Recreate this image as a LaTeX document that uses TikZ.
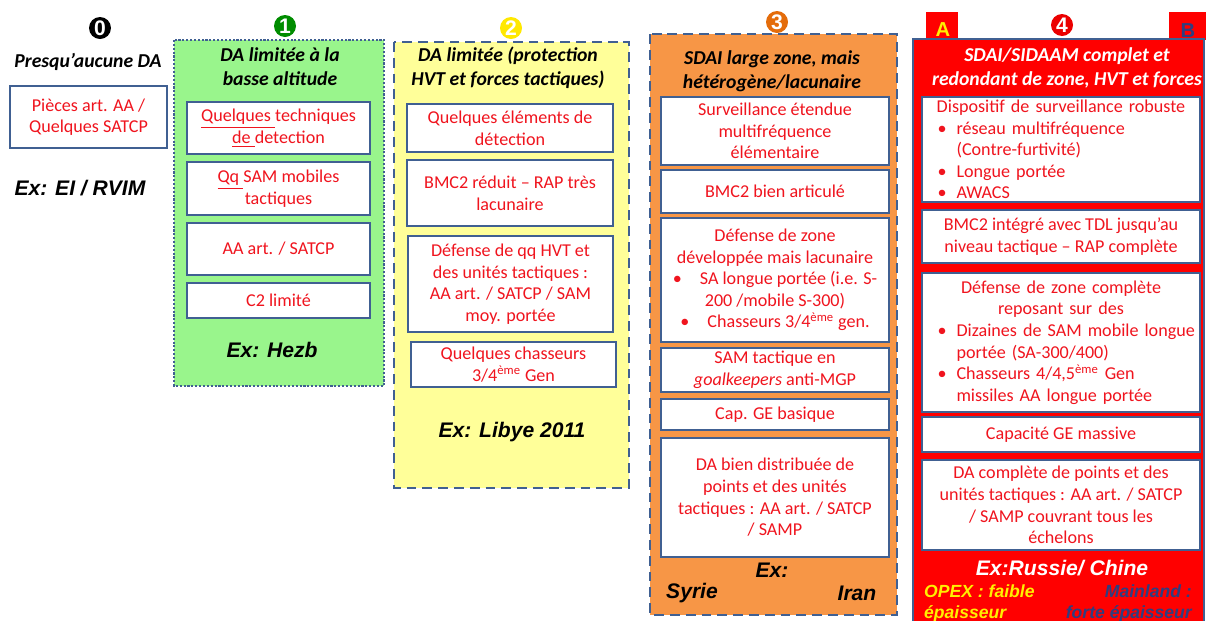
\documentclass[tikz,border=0pt]{standalone}
\usepackage{fontspec}
\setmainfont{Carlito}
\newfontfamily\arialfont{Liberation Sans}
\usepackage{tikz}
\usetikzlibrary{backgrounds}
\usepackage{xcolor}
\definecolor{frameCol}{RGB}{64,96,146}
\definecolor{itemCol}{RGB}{240,20,30}
\definecolor{greenCol}{RGB}{153,245,140}
\definecolor{yellowCol}{RGB}{255,255,153}
\definecolor{orangeCol}{RGB}{247,150,70}
\definecolor{redCol}{RGB}{255,0,0}
\definecolor{navyCol}{RGB}{47,62,128}
\definecolor{goldCol}{RGB}{255,240,0}
\colorlet{rank1Col}{green!55!black}
\definecolor{rank2Col}{RGB}{255,232,0}
\definecolor{rank3Col}{RGB}{228,108,10}
\definecolor{rank4Col}{RGB}{235,0,0}

\newcommand{\eme}{\textsuperscript{ème}}
\newcommand{\pucel}[1]{\makebox[\hsize][l]{\hspace{0.28cm}\makebox[0.38cm][l]{\textbullet}#1}}
\newcommand{\suitel}[1]{\makebox[\hsize][l]{\hspace{0.66cm}#1}}

\tikzset{
  card/.style={draw=frameCol, fill=white, line width=1.6pt, inner sep=0pt, text=itemCol, align=center, font=\fontsize{10.3}{12.3}\selectfont},
  slot/.style n args={4}{at={(#1/2+#3/2, #2/2+#4/2)}, minimum width={(#3-#1)*0.02cm}, minimum height={(#4-#2)*0.02cm}},
  heading/.style={align=center, font=\fontsize{11.2}{13.6}\selectfont\bfseries\itshape},
  exlbl/.style={font=\arialfont\fontsize{12}{14}\selectfont\bfseries\itshape},
  exsmall/.style={font=\arialfont\fontsize{10}{12}\selectfont\bfseries\itshape},
  tabtxt/.style={font=\arialfont\fontsize{11.5}{12}\selectfont\bfseries},
  rank/.style={circle, inner sep=0pt, minimum size=0.44cm, text=white, font=\arialfont\bfseries\fontsize{12}{12}\selectfont},
  dotframe/.style={draw=frameCol, line width=1.6pt, dash pattern=on 1.2pt off 1pt},
  dashframe/.style={draw=frameCol, line width=1.6pt, dash pattern=on 5.6pt off 3.4pt},
}

\begin{document}
\begin{tikzpicture}[x=0.02cm, y=-0.02cm]
%--------------------------------------------------
\useasboundingbox (0,0) rectangle (1206,620);
\clip (0,0) rectangle (1206,620);

% level 0 : no air defence
\node[rank, fill=black] (r0) at (100,28) {0};
\node[heading] (h0) at (88,62) {Presqu’aucune DA};
\node[card, slot={10}{86}{167}{148}] (c0a) {Pièces art. AA /\\Quelques SATCP};
\node[exlbl] (e0) at (80,188) {Ex: EI / RVIM};


% level 1 : green frame
\filldraw [dotframe, fill=greenCol](174,40) rectangle (384,386);
\node[rank, fill=rank1Col] (r1) at (285,26) {1};
\node[heading] (h1) at (280,67) {DA limitée à la\\basse altitude};
\node[card, slot={187}{102}{370}{154}] (c1a) {\underline{Quelques\ }techniques\\\underline{de\ }detection};
\node[card, slot={187}{162}{370}{215}] (c1b) {\underline{Qq\ }SAM mobiles\\tactiques};
\node[card, slot={187}{223}{370}{275}] (c1c) {AA art. / SATCP};
\node[card, slot={187}{283}{370}{318}] (c1d) {C2 limité};
\node[exlbl] (e1) at (272,350) {Ex: Hezb};


% level 2 : yellow frame
\filldraw [dashframe, fill=yellowCol](394,42) rectangle (629,488);
\node[rank, fill=rank2Col] (r2) at (511,28) {2};
\node[heading] (h2) at (508,68) {DA limitée (protection\\HVT et forces tactiques)};
\node[card, slot={407}{104}{613}{152}] (c2a) {Quelques éléments de\\détection};
\node[card, slot={407}{160}{613}{226}] (c2b) {BMC2 réduit – RAP très\\lacunaire};
\node[card, slot={408}{236}{613}{332}] (c2c) {Défense de qq HVT et\\des unités tactiques :\\AA art. / SATCP / SAM\\moy. portée};
\node[card, slot={411}{342}{616}{387}] (c2d) {Quelques chasseurs\\3/4\eme{} Gen};
\node[exlbl] (e2) at (512,432) {Ex: Libye 2011};


% level 3 : orange frame
\filldraw [dashframe, fill=orangeCol](650,34) rectangle (897,615);
\node[rank, fill=rank3Col] (r3) at (777,22) {3};
\node[heading] (h3) at (772,71) {SDAI large zone, mais\\hétérogène/lacunaire};
\node[card, slot={661}{97}{889}{165}] (c3a) {Surveillance étendue\\multifréquence\\élémentaire};
\node[card, slot={661}{170}{889}{213}] (c3b) {BMC2 bien articulé};
\node[card, slot={661}{218}{889}{342}] (c3c) {Défense de zone\\développée mais lacunaire\\\textbullet\quad SA longue portée (i.e. S-\\200 /mobile S-300)\\\textbullet\quad Chasseurs 3/4\eme{} gen.};
\node[card, slot={661}{348}{889}{392}] (c3d) {SAM tactique en\\\textit{goalkeepers} anti-MGP};
\node[card, slot={661}{399}{889}{430}] (c3e) {Cap. GE basique};
\node[card, slot={661}{438}{889}{557}] (c3f) {DA bien distribuée de\\points et des unités\\tactiques : AA art. / SATCP\\/ SAMP};
\node[exlbl] (e3) at (772,570) {Ex:};
\node[exlbl] (e3s) at (692,593) {Syrie};
\node[exlbl] (e3i) at (857,593) {Iran};


% level 4 : red frame with the two tabs
\begin{scope}[on background layer]
\fill [redCol](926,12) rectangle (958,40);
\fill [redCol](1169,12) rectangle (1206,40);
\end{scope}
\node[tabtxt, text=goldCol] (ta) at (943,30) {A};
\node[tabtxt, text=navyCol] (tb) at (1188,31) {B};
\filldraw [draw=frameCol, line width=1.6pt, fill=redCol](913,39) rectangle (1204,640);
\node[rank, fill=rank4Col] (r4) at (1062,25) {4};
\node[heading, text=white] (h4) at (1067,68) {SDAI/SIDAAM complet et\\redondant de zone, HVT et forces};
\node[card, text width=5.5cm, slot={922}{97}{1200}{202}] (c4a) {Dispositif de surveillance robuste\\\pucel{réseau multifréquence}\\\suitel{(Contre-furtivité)}\\\pucel{Longue portée}\\\pucel{AWACS}};
\node[card, slot={922}{210}{1200}{263}] (c4b) {BMC2 intégré avec TDL jusqu’au\\niveau tactique – RAP complète};
\node[card, text width=5.5cm, slot={922}{273}{1200}{412}] (c4c) {Défense de zone complète\\reposant sur des\\\pucel{Dizaines de SAM mobile longue}\\\suitel{portée (SA-300/400)}\\\pucel{Chasseurs 4/4,5\eme{} Gen}\\\suitel{missiles AA longue portée}};
\node[card, slot={922}{417}{1200}{452}] (c4d) {Capacité GE massive};
\node[card, slot={922}{460}{1200}{550}] (c4e) {DA complète de points et des\\unités tactiques : AA art. / SATCP\\/ SAMP couvrant tous les\\échelons};
\node[exlbl, text=white] (e4) at (1062,568) {Ex:Russie/ Chine};
\node[exsmall, text=goldCol, anchor=west, align=left] (e4a) at (918,603) {OPEX : faible\\épaisseur};
\node[exsmall, text=navyCol, anchor=east, align=right] (e4b) at (1198,603) {Mainland :\\forte épaisseur};

%--------------------------------------------------
\end{tikzpicture}
\end{document}
